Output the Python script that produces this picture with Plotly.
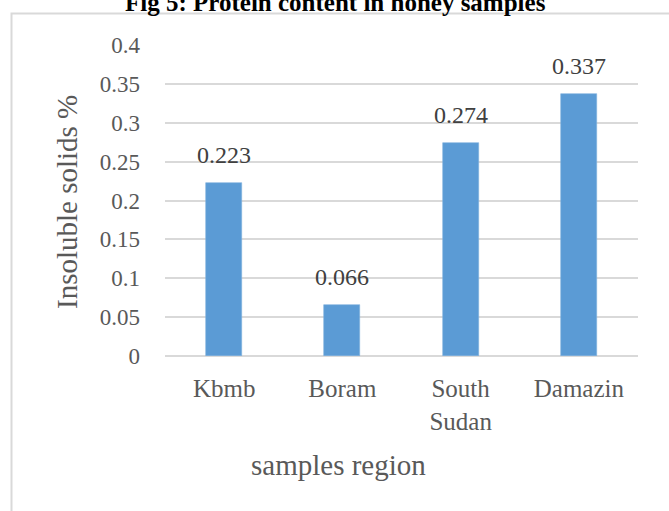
import plotly.graph_objects as go

# Data
regions = ["Kbmb", "Boram", "South<br>Sudan", "Damazin"]
insoluble = [0.223, 0.066, 0.274, 0.337]
y_ticks = [0, 0.05, 0.1, 0.15, 0.2, 0.25, 0.3, 0.35, 0.4]
y_tick_text = ["0", "0.05", "0.1", "0.15", "0.2", "0.25", "0.3", "0.35", "0.4"]

W, H = 669, 511
ML, MR, MT, MB = 165, 31, 45, 155
PW, PH = W - ML - MR, H - MT - MB

def px_x(x):
    return (x - ML) / PW

def px_y(y):
    return (H - MB - y) / PH

FONT = "Liberation Serif"
GREY = "#595959"
BAR = "#5b9bd5"
GRID = "#d9d9d9"

fig = go.Figure(
    go.Bar(
        x=regions,
        y=insoluble,
        marker=dict(color=BAR, line=dict(color="#7fb0de", width=0.6)),
        width=0.305,
        hoverinfo="skip",
    )
)

annotations = []
for r, v in zip(regions, insoluble):
    annotations.append(dict(
        x=r, y=v, xref="x", yref="y", text=f"{v:g}", showarrow=False,
        yanchor="bottom", yshift=13,
        font=dict(family=FONT, size=24, color="#404040"),
    ))

# axis titles
annotations.append(dict(
    x=px_x(338), y=px_y(465), xref="paper", yref="paper",
    text="samples region", showarrow=False, xanchor="center", yanchor="middle",
    font=dict(family=FONT, size=29, color=GREY),
))
annotations.append(dict(
    x=px_x(67), y=px_y(202), xref="paper", yref="paper",
    text="Insoluble solids %", showarrow=False, textangle=-90,
    xanchor="center", yanchor="middle",
    font=dict(family=FONT, size=29, color=GREY),
))
# figure caption
annotations.append(dict(
    x=px_x(335), y=px_y(2), xref="paper", yref="paper",
    text="<b>Fig 5: Protein content in honey samples</b>", showarrow=False,
    xanchor="center", yanchor="middle",
    font=dict(family=FONT, size=25, color="#000000"),
))

fig.update_layout(
    width=W, height=H,
    margin=dict(l=ML, r=MR, t=MT, b=MB, pad=0),
    paper_bgcolor="white", plot_bgcolor="white",
    showlegend=False,
    bargap=0.0,
    annotations=annotations,
    shapes=[dict(
        type="rect", xref="paper", yref="paper",
        x0=px_x(11.5), x1=px_x(690), y0=px_y(540), y1=px_y(13.5),
        line=dict(color="#d9d9d9", width=2), fillcolor="rgba(0,0,0,0)",
        layer="below",
    )],
    xaxis=dict(
        showline=False, showgrid=False, zeroline=False, ticks="",
        ticklabelstandoff=15,
        tickfont=dict(family=FONT, size=25, color=GREY),
        fixedrange=True,
    ),
    yaxis=dict(
        range=[0, 0.4], tickvals=y_ticks, ticktext=y_tick_text,
        showgrid=True, gridcolor=GRID, gridwidth=2,
        zeroline=True, zerolinecolor=GRID, zerolinewidth=2,
        showline=False, ticks="", ticklabelstandoff=24,
        tickfont=dict(family=FONT, size=23, color=GREY),
        fixedrange=True,
    ),
)

fig.write_html("out.html", config={"displayModeBar": False})
